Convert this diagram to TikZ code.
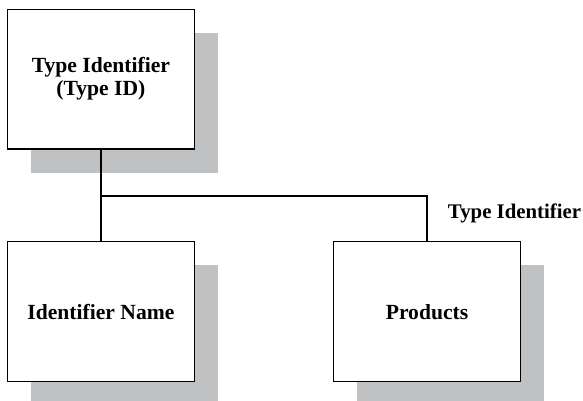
\documentclass[tikz,border=0pt]{standalone}
\usepackage{fontspec}
\setmainfont{Liberation Serif}
\usetikzlibrary{shadows,calc}
\definecolor{shadowgray}{RGB}{192,193,195}
\tikzset{
  entbox/.style={draw=black,line width=1.2pt,fill=white,minimum width=186.8pt,minimum height=139.7pt,
    inner sep=2pt,align=center,font=\bfseries\fontsize{21.6}{23}\selectfont,
    general shadow={fill=shadowgray,shadow xshift=23.5pt,shadow yshift=-23.5pt}},
  link/.style={draw=black,line width=1.2pt,line join=miter},
  linklabel/.style={font=\bfseries\fontsize{20.8}{23}\selectfont,inner sep=0pt}
}
\begin{document}
\begin{tikzpicture}[x=1pt,y=-1pt]
  \useasboundingbox (0,0) rectangle (583,401);
  % entities
  \node[entbox] (typeid) at (100.9,79.2) {Type Identifier\\(Type ID)};
  \node[entbox] (idname) at (100.9,311.7) {Identifier Name};
  \node[entbox] (prod) at (427.0,311.7) {Products};
  % relationship
  \coordinate (bus) at (100.9,196);
  \draw[link] (idname.north) -- (bus) -| (prod.north);
  \draw[link] (typeid.south) -- (bus);
  \node[linklabel] (fk) at (514.5,213) {Type Identifier};
\end{tikzpicture}
\end{document}
